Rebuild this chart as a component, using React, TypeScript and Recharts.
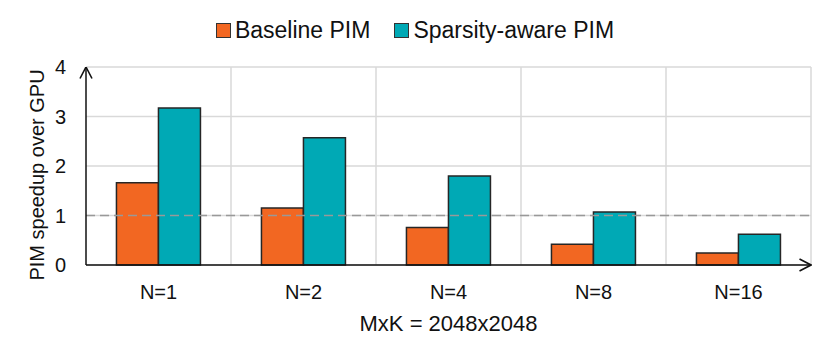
import React from "react";
import { BarChart, Bar, XAxis, YAxis, CartesianGrid, ReferenceLine, Legend } from "recharts";

const categories = ["N=1", "N=2", "N=4", "N=8", "N=16"];
const baselinePIM = [1.66, 1.15, 0.76, 0.42, 0.24];
const sparsityAwarePIM = [3.17, 2.57, 1.8, 1.07, 0.62];
const yTicks = [0, 1, 2, 3, 4];
const seriesNames = ["Baseline PIM", "Sparsity-aware PIM"];
const seriesColors = ["#F26722", "#00A9B5"];
const xAxisTitle = "MxK = 2048x2048";
const yAxisTitle = "PIM speedup over GPU";

const data = categories.map((c, i) => ({
  name: c,
  baseline: baselinePIM[i],
  sparse: sparsityAwarePIM[i],
}));

const FONT = "'Liberation Sans', Arial, Helvetica, sans-serif";
const LEGEND_H = 26;

const LegendContent = () => (
  <div
    style={{
      display: "flex",
      justifyContent: "center",
      alignItems: "center",
      fontFamily: FONT,
      fontSize: 23,
      lineHeight: `${LEGEND_H}px`,
      height: LEGEND_H,
      color: "#111",
      gap: 24,
    }}
  >
    {seriesNames.map((n, i) => (
      <div key={n} style={{ display: "flex", alignItems: "center" }}>
        <span
          style={{
            display: "inline-block",
            width: 13,
            height: 13,
            background: seriesColors[i],
            border: "1px solid #333",
            marginRight: 4,
          }}
        />
        <span>{n}</span>
      </div>
    ))}
  </div>
);

const YLabel = (props: any) => {
  const vb = props.viewBox || {};
  const x = vb.x + 44;
  const y = vb.y + vb.height / 2 + 9;
  return (
    <text
      x={x}
      y={y}
      transform={`rotate(-90 ${x} ${y})`}
      textAnchor="middle"
      fontFamily={FONT}
      fontSize={20}
      fill="#111"
    >
      {yAxisTitle}
    </text>
  );
};

export default function App() {
  return (
    <div style={{ position: "absolute", left: 0, top: 0, width: 830, height: 358, background: "#fff" }}>
      <svg width={0} height={0} style={{ position: "absolute" }}>
        <defs>
          <marker
            id="axisArrow"
            viewBox="0 0 13 14"
            refX={12.5}
            refY={7}
            markerWidth={13}
            markerHeight={14}
            markerUnits="userSpaceOnUse"
            orient="auto-start-reverse"
          >
            <path d="M1,1 L12.5,7 L1,13" fill="none" stroke="#111" strokeWidth={1.6} />
          </marker>
        </defs>
      </svg>
      <BarChart
        width={830}
        height={358}
        data={data}
        margin={{ top: 67 - LEGEND_H, right: 19, bottom: 0, left: 0 }}
        barCategoryGap="21%"
        barGap={0}
      >
        <CartesianGrid
          stroke="#d9d9d9"
          strokeWidth={1.5}
          verticalCoordinatesGenerator={({ offset }: any) =>
            categories.map((_, i) => offset.left + ((i + 1) * offset.width) / categories.length)
          }
        />
        <XAxis
          dataKey="name"
          height={93}
          tickLine={false}
          tickSize={0}
          tickMargin={20}
          axisLine={{ stroke: "#111", strokeWidth: 1.5, markerEnd: "url(#axisArrow)" } as any}
          tick={{ fontFamily: FONT, fontSize: 20, fill: "#111" }}
          label={{
            value: xAxisTitle,
            position: "insideBottom",
            offset: 27,
            style: { fontFamily: FONT, fontSize: 22, fill: "#111" },
          }}
        />
        <YAxis
          width={86}
          domain={[0, 4]}
          ticks={yTicks}
          tickLine={false}
          tickSize={0}
          tickMargin={20}
          axisLine={{ stroke: "#111", strokeWidth: 1.5, markerStart: "url(#axisArrow)" } as any}
          tick={{ fontFamily: FONT, fontSize: 20, fill: "#111" }}
          label={<YLabel />}
        />
        <Legend
          verticalAlign="top"
          height={LEGEND_H}
          content={<LegendContent />}
          wrapperStyle={{ position: "absolute", top: 17, left: 0, width: 830 }}
        />
        <ReferenceLine y={1} stroke="#999" strokeWidth={1.5} strokeDasharray="9 5" />
        <Bar
          dataKey="baseline"
          name={seriesNames[0]}
          fill={seriesColors[0]}
          stroke="#262626"
          strokeWidth={1.5}
          isAnimationActive={false}
        />
        <Bar
          dataKey="sparse"
          name={seriesNames[1]}
          fill={seriesColors[1]}
          stroke="#262626"
          strokeWidth={1.5}
          isAnimationActive={false}
        />
      </BarChart>
    </div>
  );
}
